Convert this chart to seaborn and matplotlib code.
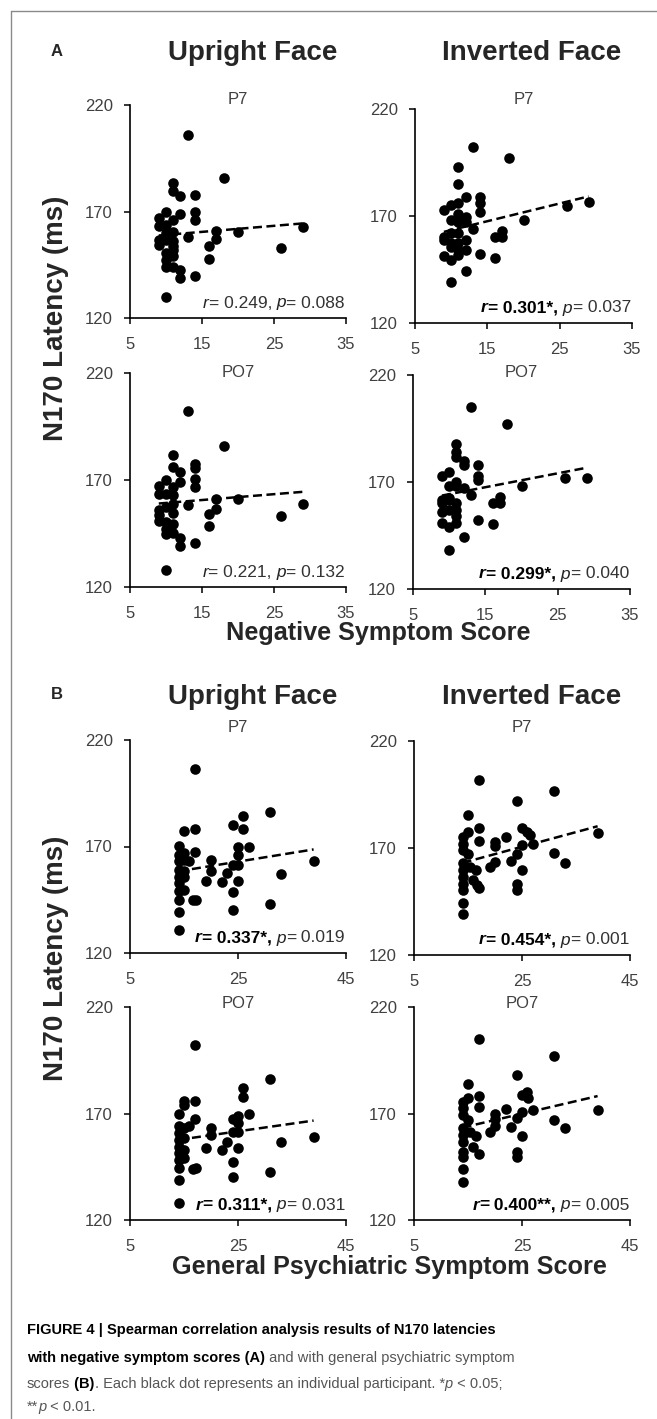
import numpy as np
import seaborn as sns
import matplotlib.pyplot as plt
from matplotlib.lines import Line2D

# ---- data ----
# (A) negative symptom score vs N170 latency
a_up_p7_x = [13, 18, 11, 11, 12, 14, 14, 14, 12, 10, 9, 11, 9, 10, 11, 10, 13, 17, 20, 29,
             17, 16, 26, 16, 9, 9, 10, 11, 11, 10, 11, 10, 11, 12, 12, 14, 10, 10, 11]
a_up_p7_y = [205.9, 185.6, 183.6, 179.7, 177.3, 177.8, 170, 166, 169, 170, 166.9, 166, 163,
             163.8, 160.6, 159.8, 158, 161, 160.6, 162.7, 157, 154, 152.8, 147.8, 156.7, 154.4,
             156.7, 153.6, 156, 150.5, 149, 144, 144, 142.7, 139, 139.8, 129.8, 147, 152]

a_inv_p7_x = [13, 18, 11, 11, 12, 14, 14, 14, 9, 10, 11, 11, 10, 11, 12, 12, 13, 20, 26, 29,
              17, 16, 17, 9, 9, 10, 11, 10, 11, 12, 11, 12, 9, 10, 11, 14, 16, 12, 10, 10]
a_inv_p7_y = [202.2, 197.3, 192.7, 185, 178.8, 179, 176, 171.7, 173, 175, 176, 171, 168, 167.3,
              169.7, 167.3, 163.9, 168, 174.8, 176.7, 163.1, 160, 160.3, 160.3, 158.8, 161.9,
              161.9, 157.2, 157.2, 158.8, 154, 154, 151.3, 149.4, 151.7, 152.2, 150.2, 144.2,
              139.2, 155.6]

a_up_po7_x = [13, 18, 11, 11, 12, 14, 14, 14, 14, 12, 10, 9, 9, 11, 11, 10, 13, 17, 20, 29,
              17, 16, 26, 16, 9, 9, 10, 11, 9, 10, 11, 10, 11, 12, 12, 14, 10, 10, 11]
a_up_po7_y = [202.1, 185.9, 181.8, 176, 173.7, 177.6, 175.8, 170.6, 166.7, 169, 169.8, 167.2,
              163.3, 166.7, 162.8, 163.6, 158.2, 161.3, 161, 159, 156.6, 154.3, 153.2, 148.3,
              155.8, 153.5, 157.4, 154.6, 150.8, 150.4, 149.6, 144.9, 145.2, 143, 139, 140.6,
              128.1, 147.3, 158.9]

a_inv_po7_x = [13, 18, 11, 11, 11, 12, 12, 14, 14, 14, 9, 10, 11, 10, 11, 12, 13, 20, 26, 29,
               17, 16, 17, 9, 9, 9, 10, 11, 10, 11, 11, 9, 10, 11, 14, 16, 12, 10, 10]
a_inv_po7_y = [205.2, 197, 187.8, 184.2, 181.9, 179.6, 178, 178, 172.6, 171, 173, 174.9, 170.2,
               167.9, 167.9, 167.1, 164, 168.2, 172.1, 172.1, 162.9, 160.1, 160.1, 161.7, 160.1,
               156.2, 161.7, 160.1, 157, 157, 153.9, 150.8, 149.2, 150.8, 152.3, 150.3, 144.1,
               138, 162.5]

# (B) general psychiatric symptom score vs N170 latency
b_up_p7_x = [17, 31, 26, 24, 26, 15, 17, 27, 14, 17, 25, 25, 15, 14, 14, 15, 16, 20, 20, 25,
             24, 23, 39, 33, 14, 15, 14, 15, 14, 19, 22, 25, 14, 15, 24, 14, 16.6, 17.2, 31, 14,
             24, 14]
b_up_p7_y = [206.4, 186.1, 184.1, 180.2, 178.1, 177.5, 178.1, 170, 170.3, 167.2, 170, 166.1,
             166.9, 166.1, 163, 163.8, 163, 163.8, 158.3, 161.4, 161.4, 157.5, 163.3, 157.2, 159,
             158.3, 155.9, 155.9, 152.8, 153.6, 153.1, 153.9, 148.9, 149.7, 148.6, 145, 144.7,
             145, 143, 139.1, 140.3, 130.6]

b_inv_p7_x = [17, 31, 24, 15, 17, 25, 26, 26.4, 39, 22, 14, 15, 17, 20, 20, 25, 27, 14, 14, 15,
              24, 31, 20, 23, 33, 19, 25, 14, 14, 15.4, 16.5, 14, 16, 14, 17, 16.6, 24, 24, 14,
              14, 14]
b_inv_p7_y = [202, 196.7, 192, 185.3, 179.4, 179.4, 177.5, 176, 177.1, 175.2, 175.2, 177.5,
              173.3, 172.9, 170.9, 171.3, 171.8, 172.1, 169, 167.4, 167.4, 167.7, 163.5, 163.9,
              163.1, 161.2, 159.7, 162.8, 159.7, 161.2, 159.7, 156.5, 155, 153.4, 151.1, 152.7,
              153.1, 150.3, 150.3, 144.4, 139]

b_up_po7_x = [17, 31, 26, 26, 15, 17, 15, 27, 14, 17, 24, 25, 25, 14, 15, 16, 20, 20, 25, 24,
              39, 33, 23, 14, 15, 14, 14, 19, 22, 25, 15, 14, 14, 15, 24, 14, 16.7, 17.3, 31, 14,
              24, 14]
b_up_po7_y = [202.3, 186.1, 181.9, 177.7, 176.1, 176, 173.8, 169.8, 169.8, 167.3, 167.3, 169,
              165.5, 163.9, 163.1, 163.9, 163.1, 160, 161.1, 161.1, 159.2, 156.8, 156.8, 160.8,
              158.4, 157.6, 154.5, 153.7, 152.9, 153.7, 152.9, 151.3, 148.2, 149, 147.4, 144.3,
              143.8, 144.3, 142.7, 138.8, 140.1, 128.2]

b_inv_po7_x = [17, 31, 24, 15, 17, 25, 26, 26.2, 39, 22, 14, 15, 17, 20, 20, 25, 27, 14, 14, 15,
               24, 31, 20, 23, 33, 19, 25, 14, 14, 15.4, 16.5, 14, 14, 16, 17, 14, 24, 24, 14, 14]
b_inv_po7_y = [205, 196.8, 187.9, 183.9, 178, 178.8, 180.3, 177.2, 171.7, 172, 175.6, 177.2, 173,
               169.8, 167.3, 170.9, 171.7, 172.5, 169.4, 167, 167.8, 167, 163.9, 163.6, 163.1,
               161.1, 159.5, 163.1, 160, 161.5, 159.5, 156.8, 152.1, 154.5, 151, 149.8, 151.7,
               149.5, 143.8, 138]

r_values = ["0.249", "0.301*", "0.221", "0.299*", "0.337*", "0.454*", "0.311*", "0.400**"]
p_values = ["0.088", "0.037", "0.132", "0.040", "0.019", "0.001", "0.031", "0.005"]
electrodes = ["P7", "P7", "PO7", "PO7", "P7", "P7", "PO7", "PO7"]
face_titles = ["Upright Face", "Inverted Face"]
x_labels = ["Negative Symptom Score", "General Psychiatric Symptom Score"]
y_label = "N170 Latency (ms)"
xticks_a = [5, 15, 25, 35]
xticks_b = [5, 25, 45]
yticks = [120, 170, 220]

sns.set_style("ticks")
plt.rcParams["font.family"] = ["Liberation Sans", "DejaVu Sans"]

W, H = 657, 1419
fig = plt.figure(figsize=(W / 100, H / 100), dpi=100)
fig.patch.set_facecolor("white")
renderer = fig.canvas.get_renderer()

GRAY = "#404040"


def px_axes(l, t, r, b):
    return fig.add_axes([l / W, 1 - b / H, (r - l) / W, (b - t) / H])


def ftext(x, y, s, **kw):
    return fig.text(x / W, 1 - y / H, s, **kw)


def pieces_left(x, y, pieces, **common):
    # lay text pieces left to right (spaces kept at the start of a piece)
    for s, kw in pieces:
        t = ftext(x, y, s, ha="left", va="center", **common, **kw)
        x += t.get_window_extent(renderer).width


def pieces_right(x, y, pieces, **common):
    for s, kw in reversed(pieces):
        t = ftext(x, y, s, ha="right", va="center", **common, **kw)
        x -= t.get_window_extent(renderer).width


# frame of the figure box
fig.add_artist(Line2D([11 / W, 11 / W], [0, 1 - 11 / H], color="#8a8a8a", lw=1))
fig.add_artist(Line2D([11 / W, 1], [1 - 11 / H, 1 - 11 / H], color="#8a8a8a", lw=1))

# (left, top, right, bottom) in pixels, electrode label y
boxes = [
    (130, 105, 346, 318, 100),
    (415, 109, 632, 323, 100),
    (130, 373, 346, 587, 372),
    (413, 375, 630, 589, 372),
    (130, 740, 346, 953, 728),
    (414, 741, 630, 955, 728),
    (130, 1007, 346, 1220, 1003),
    (414, 1007, 630, 1220, 1003),
]
xs = [a_up_p7_x, a_inv_p7_x, a_up_po7_x, a_inv_po7_x,
      b_up_p7_x, b_inv_p7_x, b_up_po7_x, b_inv_po7_x]
ys = [a_up_p7_y, a_inv_p7_y, a_up_po7_y, a_inv_po7_y,
      b_up_p7_y, b_inv_p7_y, b_up_po7_y, b_inv_po7_y]

IT = dict(style="italic", color="#222222")
RG = dict(color="#333333")
BD = dict(weight="bold", color="black")
BI = dict(weight="bold", style="italic", color="black")

for i, (l, t, r, b, ty) in enumerate(boxes):
    ax = px_axes(l, t, r, b)
    x = np.array(xs[i], dtype=float)
    y = np.array(ys[i], dtype=float)
    ticks = xticks_a if i < 4 else xticks_b
    sns.scatterplot(x=x, y=y, ax=ax, color="black", s=58, linewidth=0, zorder=3)
    sns.regplot(x=x, y=y, ax=ax, scatter=False, ci=None, truncate=True,
                line_kws=dict(color="black", lw=1.8, ls=(0, (3.6, 1.8)), zorder=4))
    ax.set_xlim(ticks[0], ticks[-1])
    ax.set_ylim(120, 220)
    ax.set_xticks(ticks)
    ax.set_yticks(yticks)
    ax.set_xlabel("")
    ax.set_ylabel("")
    sns.despine(ax=ax)
    for sp in ("left", "bottom"):
        ax.spines[sp].set_linewidth(1.2)
        ax.spines[sp].set_color("black")
    ax.tick_params(axis="both", direction="out", length=4.5, width=1.1, color="black",
                   labelsize=12, labelcolor=GRAY)
    ax.tick_params(axis="x", pad=9)
    ax.tick_params(axis="y", pad=8)
    ax.patch.set_alpha(0)
    ftext((l + r) / 2, ty, electrodes[i], ha="center", va="center", fontsize=12, color=GRAY)

    if "*" in r_values[i]:
        stat = [("r", BI), ("=", BD), (" " + r_values[i] + ",", BD),
                (" p", IT), ("=", RG), (" " + p_values[i], RG)]
    else:
        stat = [("r", IT), ("= " + r_values[i] + ",", RG),
                (" p", IT), ("= " + p_values[i], RG)]
    pieces_right(r - 1, b - 15, stat, fontsize=12.5)

# headings
for yy, letter in [(51, "A"), (695, "B")]:
    ftext(57, yy, letter, ha="center", va="center", fontsize=12, weight="bold")
    ftext(253, yy + 2, face_titles[0], ha="center", va="center", fontsize=20, weight="bold")
    ftext(532, yy + 2, face_titles[1], ha="center", va="center", fontsize=20, weight="bold")

ftext(56, 318, y_label, rotation=90, ha="center", va="center", fontsize=20, weight="bold")
ftext(56, 958, y_label, rotation=90, ha="center", va="center", fontsize=20, weight="bold")
ftext(378, 633, x_labels[0], ha="center", va="center", fontsize=18.2, weight="bold")
ftext(389, 1267, x_labels[1], ha="center", va="center", fontsize=18.2, weight="bold")

# caption, drawn piece by piece so bold / italic / colour can change inside a line
cap_font = ["Liberation Sans Narrow", "Liberation Sans", "DejaVu Sans"]
CB = dict(weight="bold", color="black")
CR = dict(color="#555555")
CI = dict(color="#555555", style="italic")
caption = [
    (1330, [("FIGURE 4 | Spearman correlation analysis results of N170 latencies", CB)]),
    (1358, [("with negative symptom scores (A)", CB),
            (" and with general psychiatric symptom", CR)]),
    (1384, [("scores", CR), (" (B)", CB),
            (". Each black dot represents an individual participant. *", CR),
            ("p", CI), (" < 0.05;", CR)]),
    (1407, [("**", CR), ("p", CI), (" < 0.01.", CR)]),
]
for yy, pieces in caption:
    pieces_left(27, yy, pieces, fontsize=10.5, family=cap_font)

fig.savefig("out.png", dpi=100, facecolor="white")
